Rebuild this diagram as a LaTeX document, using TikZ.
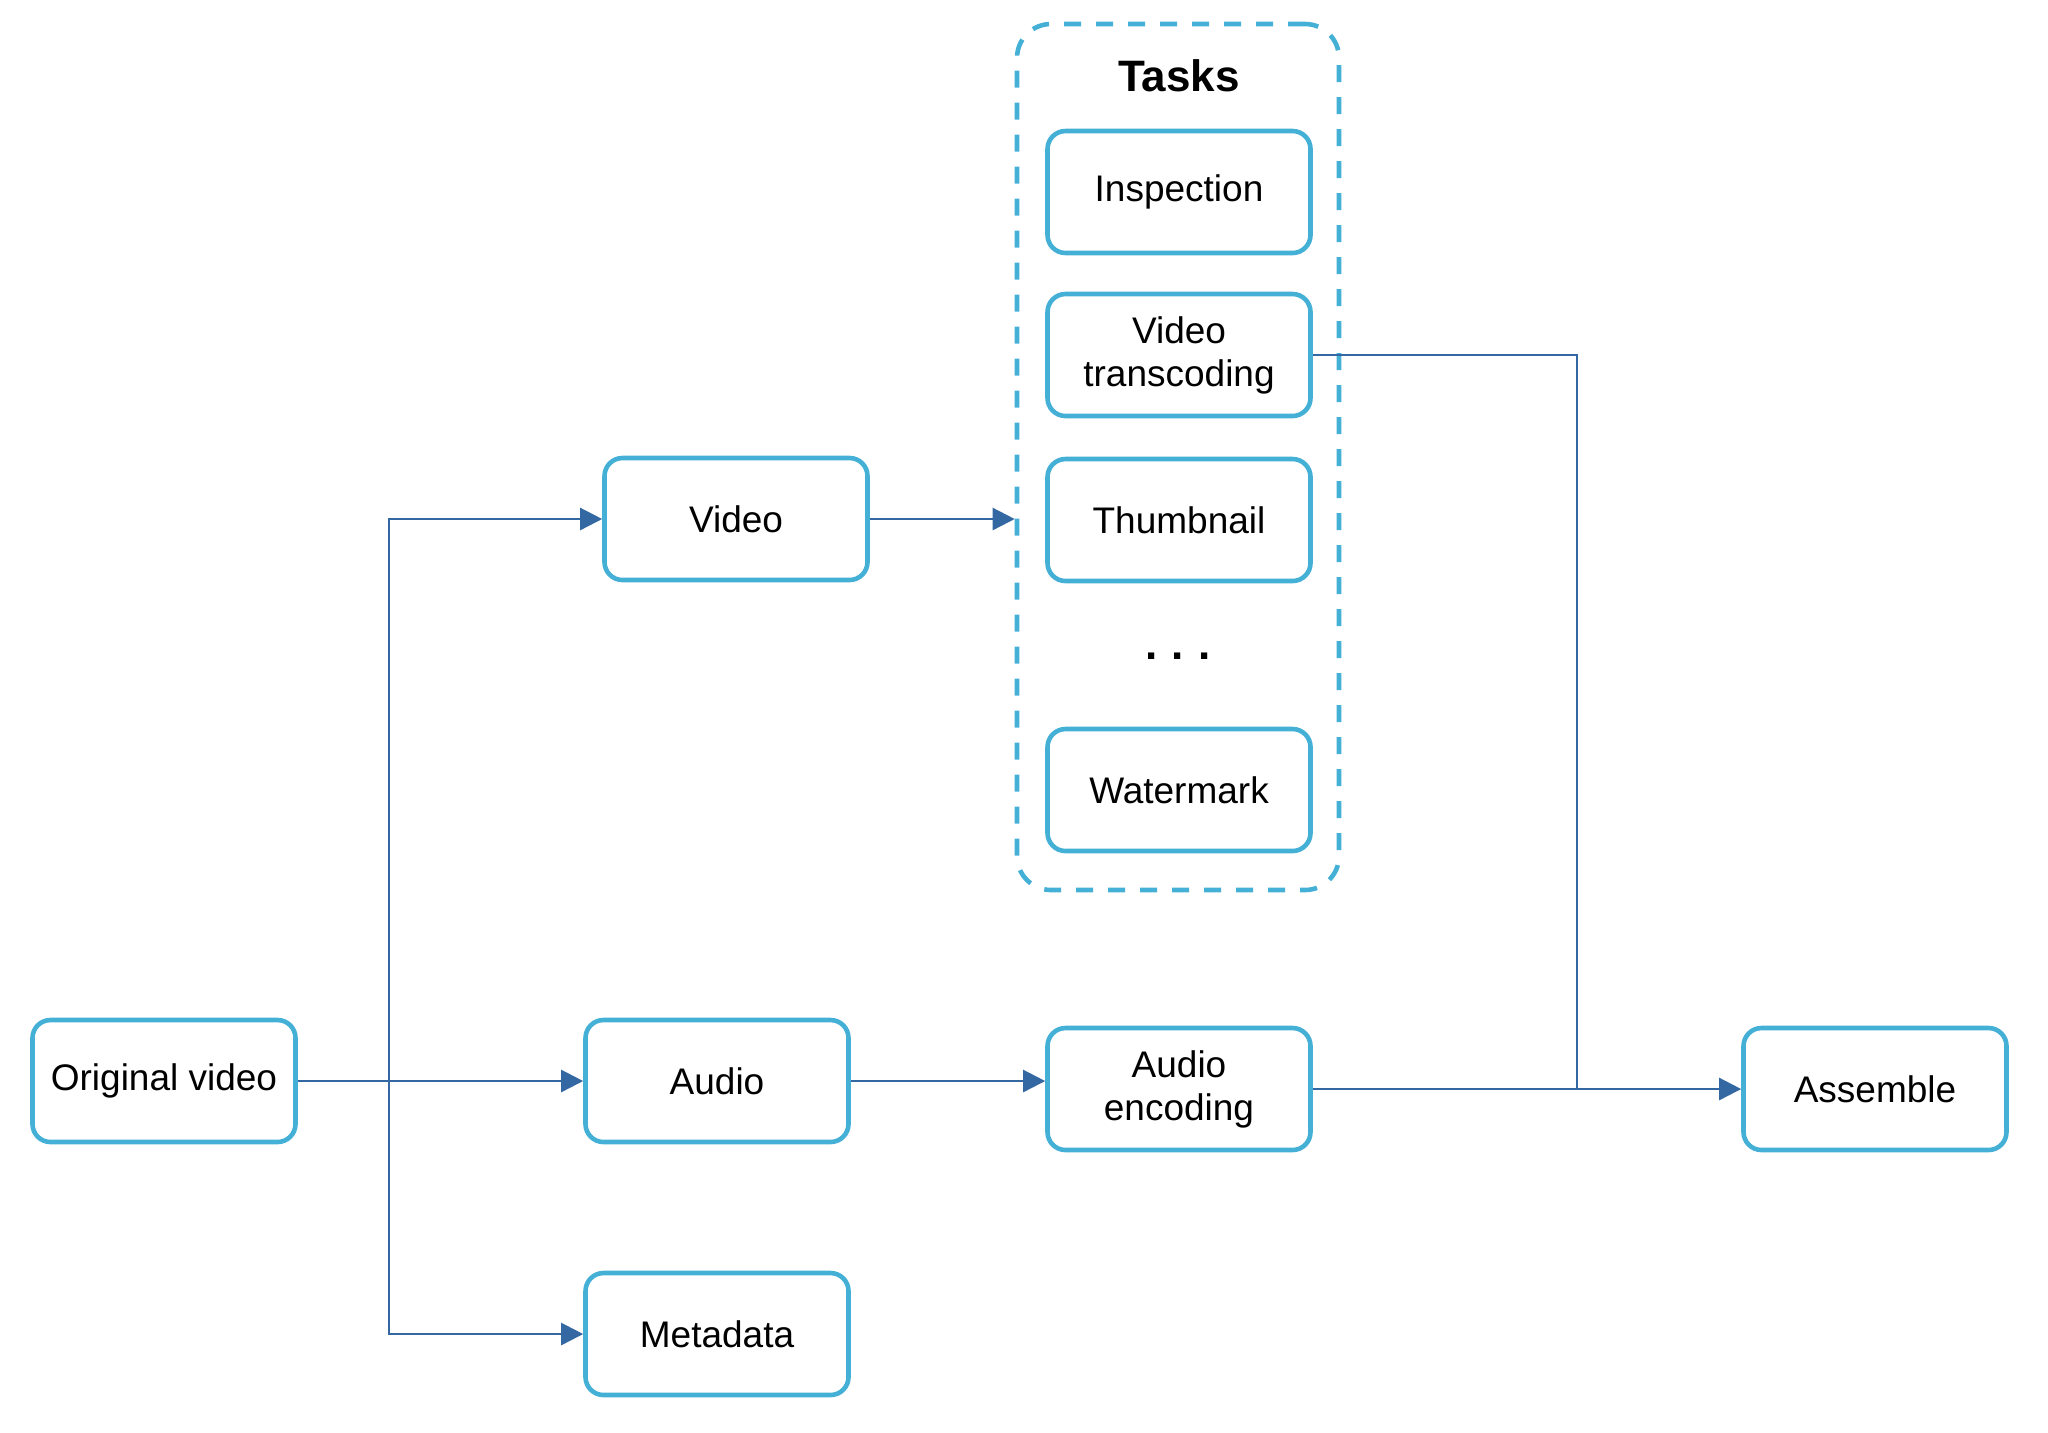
\documentclass[tikz,border=0pt]{standalone}
\usepackage{fontspec}
\setmainfont{Liberation Sans}
\usetikzlibrary{arrows.meta}
\definecolor{boxblue}{HTML}{45B0D6}
\definecolor{linkblue}{HTML}{3468A2}
\begin{document}
\begin{tikzpicture}[x=0.5pt,y=-0.5pt,
  taskbox/.style={draw=boxblue, line width=2.3pt, rounded corners=9pt,
    minimum width=131.5pt, minimum height=61pt, inner sep=0pt,
    align=center, text=black, font=\fontsize{18.5}{21.5}\selectfont},
  group/.style={draw=boxblue, line width=2.3pt, rounded corners=17pt,
    dash pattern=on 8.5pt off 7.5pt, minimum width=161pt, minimum height=433pt, inner sep=0pt},
  link/.style={draw=linkblue, line width=1.2pt},
  arr/.style={link, -{Triangle[length=11pt,width=11pt]}},
]
\useasboundingbox (0,0) rectangle (2048,1432);
% container
\node[group] (tasks) at (1178,457) {};
\node[font=\fontsize{22}{26}\selectfont\bfseries] (tasklabel) at (1179,76) {Tasks};
% task boxes
\node[taskbox] (insp) at (1179,192) {Inspection};
\node[taskbox] (vt) at (1179,355) {Video\\transcoding};
\node[taskbox] (thumb) at (1179,520) {Thumbnail};
\node[font=\fontsize{22}{26}\selectfont\bfseries] (dots) at (1178,656) {.\hspace{7pt}.\hspace{7pt}.};
\node[taskbox] (wm) at (1179,790) {Watermark};
% other boxes
\node[taskbox] (video) at (736,519) {Video};
\node[taskbox] (orig) at (164,1081) {Original video};
\node[taskbox] (audio) at (717,1081) {Audio};
\node[taskbox] (meta) at (717,1334) {Metadata};
\node[taskbox] (ae) at (1179,1089) {Audio\\encoding};
\node[taskbox] (asm) at (1875,1089) {Assemble};
% connectors
\coordinate (br) at (389,1081);
\coordinate (join) at (1577,1089);
\draw[arr] (orig.east) -- (audio.west);
\draw[arr] (br) |- (video.west);
\draw[arr] (br) |- (meta.west);
\draw[arr] (video.east) -- (video.east -| tasks.west);
\draw[arr] (audio.east) -- (audio.east -| ae.west);
\draw[arr] (ae.east) -- (asm.west);
\draw[link] (vt.east) -| (join);
\end{tikzpicture}
\end{document}
